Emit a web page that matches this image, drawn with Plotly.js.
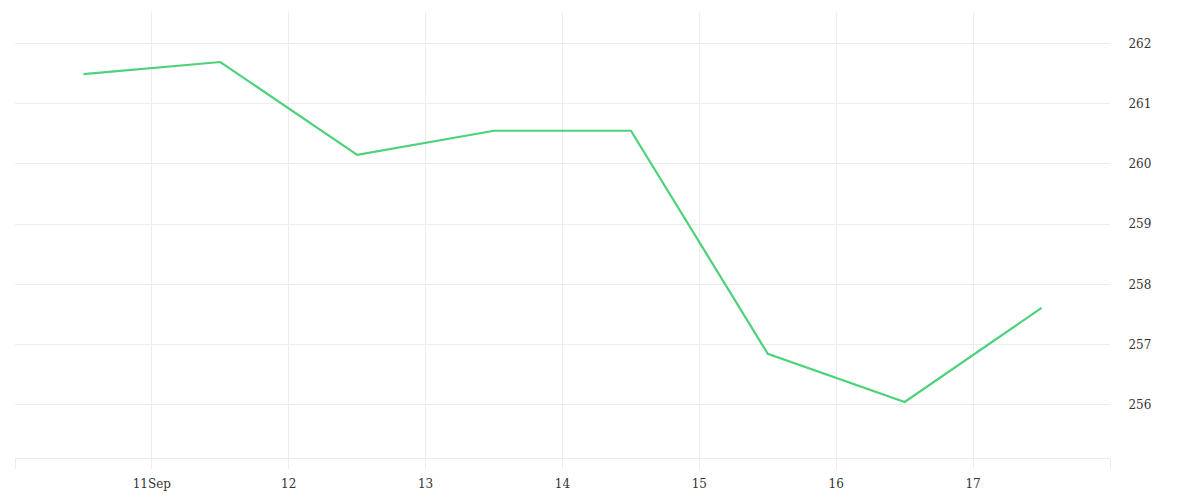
<!DOCTYPE html>
<html>
<head>
<meta charset="utf-8">
<script src="https://cdn.plot.ly/plotly-3.0.1.min.js"></script>
<style>
  html, body { margin: 0; padding: 0; background: #fff; }
  #chart { width: 1200px; height: 500px; }
</style>
</head>
<body>
<div id="chart"></div>
<script>
// one close per day, plotted at midday
var dates = ['2018-09-10 12:00', '2018-09-11 12:00', '2018-09-12 12:00', '2018-09-13 12:00',
             '2018-09-14 12:00', '2018-09-15 12:00', '2018-09-16 12:00', '2018-09-17 12:00'];
var prices = [261.49, 261.69, 260.15, 260.55, 260.55, 256.85, 256.05, 257.61];

var tickDates = ['2018-09-10', '2018-09-11', '2018-09-12', '2018-09-13', '2018-09-14',
                 '2018-09-15', '2018-09-16', '2018-09-17', '2018-09-18'];
var tickLabels = ['', '11Sep', '12', '13', '14', '15', '16', '17', ''];
var priceTicks = [256, 257, 258, 259, 260, 261, 262];

var gridColor = '#ececec';

var trace = {
    x: dates,
    y: prices,
    type: 'scatter',
    mode: 'lines',
    line: { color: '#4cd27a', width: 2.2 },
    hoverinfo: 'x+y'
};

var layout = {
    width: 1200,
    height: 500,
    margin: { 't': 12, 'b': 42, 'l': 15, 'r': 90 },
    showlegend: false,
    paper_bgcolor: '#fff',
    plot_bgcolor: '#fff',
    font: { family: 'DejaVu Serif', size: 12, color: '#333' },
    xaxis: {
        type: 'date',
        range: ['2018-09-10', '2018-09-18'],
        tickmode: 'array',
        tickvals: tickDates,
        ticktext: tickLabels,
        showgrid: true,
        gridcolor: gridColor,
        gridwidth: 1,
        ticks: 'outside',
        ticklen: 10,
        tickcolor: gridColor,
        ticklabelstandoff: 5,
        showline: true,
        linecolor: gridColor,
        linewidth: 1,
        zeroline: false
    },
    yaxis: {
        side: 'right',
        range: [255.12, 262.52],
        tickmode: 'array',
        tickvals: priceTicks,
        showgrid: true,
        gridcolor: gridColor,
        gridwidth: 1,
        ticks: 'outside',
        ticklen: 15,
        tickcolor: 'rgba(0,0,0,0)',
        showline: false,
        zeroline: false
    }
};

Plotly.newPlot('chart', [trace], layout, { displayModeBar: false, staticPlot: true });
</script>
</body>
</html>
